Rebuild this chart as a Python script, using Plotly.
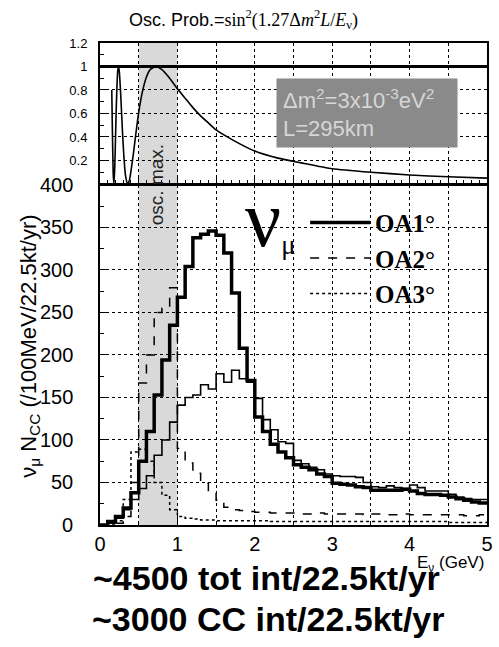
import plotly.graph_objects as go

# ---------------- data ----------------
# oscillation probability curve
osc_E = [0.152, 0.16, 0.17, 0.179, 0.19, 0.20, 0.21, 0.22, 0.23, 0.24, 0.25, 0.27, 0.29,
         0.31, 0.33, 0.358, 0.38, 0.40, 0.43, 0.46, 0.50, 0.55, 0.60, 0.65, 0.72, 0.80,
         0.90, 1.0, 1.1, 1.2, 1.3, 1.4, 1.5, 1.7, 2.0, 2.3, 2.6, 3.0, 3.5, 4.0, 4.5, 5.0]
osc_P = [0.80, 0.46, 0.10, 0.0, 0.13, 0.38, 0.64, 0.85, 0.97, 1.0, 0.955, 0.73, 0.45,
         0.22, 0.07, 0.0, 0.03, 0.11, 0.25, 0.41, 0.61, 0.79, 0.91, 0.975, 1.0, 0.973,
         0.90, 0.81, 0.73, 0.65, 0.58, 0.52, 0.46, 0.38, 0.28, 0.22, 0.18, 0.13, 0.10,
         0.077, 0.061, 0.050]

# histogram bins: 100 MeV wide, edges 0.0 ... 5.0 GeV
bin_edges = [round(0.1 * i, 1) for i in range(51)]

oa1 = [0, 4, 10, 20, 38, 75, 110, 153, 194, 235,
       268, 304, 338, 342, 346, 341, 320, 273, 208, 170,
       127, 110, 95, 86, 79, 71, 68, 65, 60, 57,
       49, 48, 47, 45, 44, 41, 41, 41, 41, 42,
       40, 37, 36, 36, 35, 33, 31, 29, 27, 26]

oa_thin = [0, 2, 8, 18, 30, 43, 58, 82, 100, 121,
           141, 150, 153, 165, 160, 178, 168, 182, 172, 168,
           149, 124, 112, 98, 96, 76, 72, 68, 65, 60,
           58, 57, 57, 56, 50, 45, 44, 46, 44, 43,
           47, 44, 40, 40, 40, 36, 33, 31, 30, 30]

oa2 = [0, 0, 2, 10, 50, 167, 200, 250, 255, 279,
       90, 73, 61, 49, 38, 29, 21, 18, 17, 16,
       15, 15, 14, 14, 14, 14, 13, 13, 14, 13,
       13, 13, 13, 13, 12, 13, 13, 12, 12, 13,
       12, 12, 12, 12, 12, 12, 12, 11, 11, 12]

oa3 = [0, 0, 5, 30, 86, 89, 75, 50, 35, 18,
       10, 8, 7, 6, 6, 5, 5, 5, 5, 5,
       5, 5, 4, 4, 4, 4, 4, 4, 4, 4,
       4, 4, 4, 4, 4, 4, 4, 4, 4, 4,
       4, 4, 4, 4, 4, 3, 3, 3, 3, 3]

bottom_ticks = [0, 50, 100, 150, 200, 250, 300, 350, 400]
top_ticks = [0.2, 0.4, 0.6, 0.8, 1.0, 1.2]
top_ticklabels = ["0.2", "0.4", "0.6", "0.8", "1", "1.2"]
x_ticks = [0, 1, 2, 3, 4, 5]


def step(vals):
    return bin_edges, list(vals) + [vals[-1]]


SANS = "Liberation Sans, Arial, sans-serif"
SERIF = "Liberation Serif, Times New Roman, serif"

fig = go.Figure()

# histograms (bottom panel)
x, y = step(oa_thin)
fig.add_trace(go.Scatter(x=x, y=y, xaxis="x2", yaxis="y2", mode="lines", line_shape="hv",
                         line=dict(color="black", width=1.6), showlegend=False, hoverinfo="skip"))
x, y = step(oa1)
fig.add_trace(go.Scatter(x=x, y=y, xaxis="x2", yaxis="y2", mode="lines", line_shape="hv",
                         name="<b>OA1°</b>", line=dict(color="black", width=3.5)))
x, y = step(oa2)
fig.add_trace(go.Scatter(x=x, y=y, xaxis="x2", yaxis="y2", mode="lines", line_shape="hv",
                         name="<b>OA2°</b>", line=dict(color="black", width=1.5, dash="dash")))
x, y = step(oa3)
fig.add_trace(go.Scatter(x=x, y=y, xaxis="x2", yaxis="y2", mode="lines", line_shape="hv",
                         name="<b>OA3°</b>", line=dict(color="black", width=1.5, dash="dot")))

# oscillation probability (top panel)
fig.add_trace(go.Scatter(x=osc_E, y=osc_P, xaxis="x", yaxis="y", mode="lines",
                         line=dict(color="black", width=1.6, shape="spline", smoothing=0.5),
                         showlegend=False, hoverinfo="skip"))

axis_common = dict(showline=True, linecolor="black", linewidth=2, mirror=True,
                   showgrid=True, gridcolor="black", griddash="dot", gridwidth=1,
                   zeroline=False, ticks="inside", ticklen=7, tickcolor="black")

fig.update_layout(
    width=499, height=647,
    margin=dict(l=100, r=6, t=43, b=122),
    paper_bgcolor="white", plot_bgcolor="rgba(0,0,0,0)",
    xaxis=dict(**axis_common, domain=[0, 1], range=[0, 5], anchor="y", matches="x2",
               dtick=0.5, tick0=0, showticklabels=False,
               minor=dict(dtick=0.1, ticks="inside", ticklen=4, tickcolor="black", showgrid=False)),
    yaxis=dict(**axis_common, domain=[0.7075, 1.0], range=[0, 1.2], anchor="x",
               tickvals=top_ticks, ticktext=top_ticklabels, ticklabelstandoff=8,
               tickfont=dict(family=SANS, size=13, color="black"),
               minor=dict(dtick=0.1, ticks="inside", ticklen=4, tickcolor="black", showgrid=False)),
    xaxis2=dict(**axis_common, domain=[0, 1], range=[0, 5], anchor="y2",
                tickvals=x_ticks,
                tickfont=dict(family=SANS, size=20, color="black"),
                minor=dict(dtick=0.5, ticks="inside", ticklen=4, tickcolor="black",
                           showgrid=True, gridcolor="black", griddash="dot", gridwidth=1)),
    yaxis2=dict(**axis_common, domain=[0, 0.7054], range=[0, 400], anchor="x2",
                tickvals=bottom_ticks, showticklabels=False,
                minor=dict(dtick=25, ticks="inside", ticklen=4, tickcolor="black", showgrid=False)),
    legend=dict(x=0.53, y=0.675, xanchor="left", yanchor="top",
                font=dict(family=SERIF, size=25, color="black"),
                bgcolor="rgba(0,0,0,0)", itemwidth=60, tracegroupgap=0),
    showlegend=True,
)

# osc. max. band and P=1 line
fig.add_shape(type="rect", xref="x", yref="paper", x0=0.5, x1=1.0, y0=0, y1=1,
              fillcolor="rgba(120,120,120,0.28)", line=dict(width=0), layer="below")
fig.add_shape(type="line", xref="x domain", yref="y", x0=0, x1=1, y0=1, y1=1,
              line=dict(color="black", width=3))

annotations = [
    dict(text="Osc. Prob.=<span style='font-family:Liberation Serif'>sin<sup>2</sup>(1.27Δ<i>m</i><sup>2</sup><i>L</i>/<i>E</i><sub>ν</sub>)</span>",
         xref="paper", yref="paper", x=0.37, y=1.0, yshift=24, xanchor="center", yanchor="middle",
         showarrow=False, font=dict(family=SANS, size=18, color="black")),
    dict(text="Δm<sup>2</sup>=3x10<sup>-3</sup>eV<sup>2</sup><br>L=295km", align="left",
         xref="x", yref="y", x=3.45, y=0.605, width=168, height=56, borderpad=6,
         xanchor="center", yanchor="middle",
         showarrow=False, bgcolor="#8a8a8a", font=dict(family=SANS, size=22, color="#d6d6d6")),
    dict(text="osc. max.", textangle=-90, xref="x", yref="paper", x=0.73, y=0.706,
         xanchor="center", yanchor="middle",
         showarrow=False, font=dict(family=SANS, size=19, color="#222222")),
    dict(text="ν<span style='font-size:38px'><sub>μ</sub></span>", xref="x2", yref="y2", x=2.2, y=360,
         xanchor="center", yanchor="middle",
         showarrow=False, font=dict(family=SERIF, size=80, color="black")),
    dict(text="ν<sub>μ</sub> N<sub>CC</sub> (/100MeV/22.5kt/yr)", textangle=-90,
         xref="paper", yref="paper", x=-0.183, y=0.37, xanchor="center", yanchor="middle",
         showarrow=False, font=dict(family=SANS, size=22, color="black")),
    dict(text="E<sub>ν</sub> (GeV)", xref="paper", yref="paper", x=0.905, y=-0.08,
         xanchor="center", yanchor="middle",
         showarrow=False, font=dict(family=SANS, size=17, color="black")),
    dict(text="<b>~4500 tot int/22.5kt/yr</b>", xref="paper", yref="paper", x=0.43, y=-0.11,
         xanchor="center", yanchor="middle",
         showarrow=False, font=dict(family=SANS, size=34, color="black")),
    dict(text="<b>~3000 CC int/22.5kt/yr</b>", xref="paper", yref="paper", x=0.435, y=-0.194,
         xanchor="center", yanchor="middle",
         showarrow=False, font=dict(family=SANS, size=34, color="black")),
]
# bottom-panel y tick labels, set away from the axis as in the original
for v in bottom_ticks:
    annotations.append(dict(text=str(v), xref="paper", yref="y2", x=0, y=v,
                            xanchor="right", yanchor="middle", xshift=-25,
                            showarrow=False, font=dict(family=SANS, size=20, color="black")))
fig.update_layout(annotations=annotations)

fig.write_html("out.html")
